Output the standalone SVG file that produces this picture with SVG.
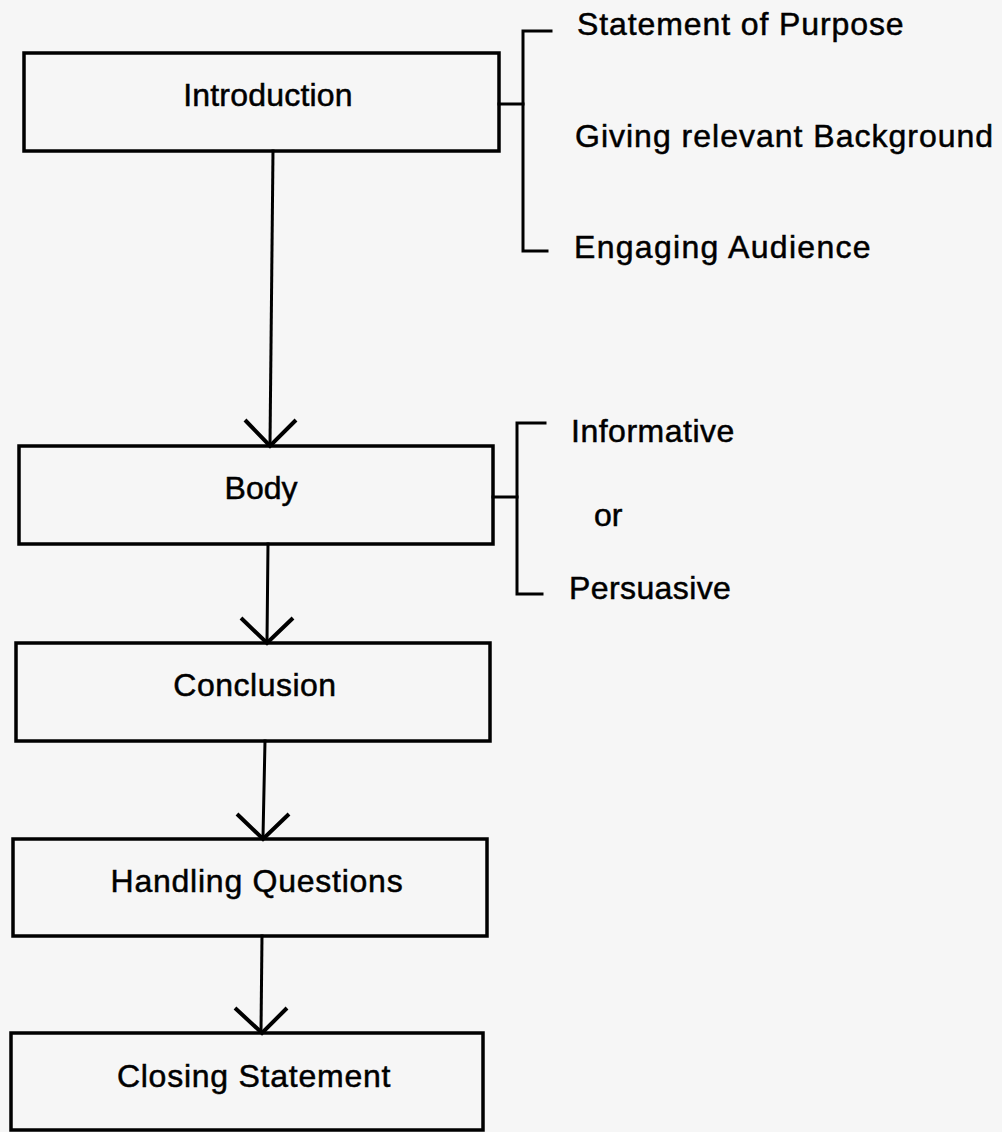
<svg xmlns="http://www.w3.org/2000/svg" width="1002" height="1132" viewBox="0 0 1002 1132">
<style>
.box{fill:none;stroke:#000;stroke-width:3.5}
.ln{fill:none;stroke:#000;stroke-width:3;stroke-linecap:square}
.ah{fill:none;stroke:#000;stroke-width:4;stroke-linejoin:miter}
.t{font-family:"Liberation Sans",Arial,sans-serif;font-size:32px;fill:#000;stroke:#000;stroke-width:0.5}
.c{text-anchor:middle}
</style>
<rect width="1002" height="1132" fill="#f6f6f6"/>
<g id="introduction">
<rect class="box" x="24" y="53" width="475" height="98"/>
<text class="t c" x="268" y="106" letter-spacing="0.2">Introduction</text>
</g>
<g id="body">
<rect class="box" x="19" y="446" width="474" height="98"/>
<text class="t c" x="261" y="499">Body</text>
</g>
<g id="conclusion">
<rect class="box" x="16" y="643" width="474" height="98"/>
<text class="t c" x="255" y="696" letter-spacing="0.5">Conclusion</text>
</g>
<g id="handling-questions">
<rect class="box" x="13" y="839" width="474" height="97"/>
<text class="t c" x="257" y="892" letter-spacing="0.75">Handling Questions</text>
</g>
<g id="closing-statement">
<rect class="box" x="11" y="1033" width="472" height="97"/>
<text class="t c" x="254" y="1087" letter-spacing="0.75">Closing Statement</text>
</g>
<g id="intro-points">
<text class="t" x="577" y="35" letter-spacing="0.9">Statement of Purpose</text>
<text class="t" x="575" y="147" letter-spacing="1">Giving relevant Background</text>
<text class="t" x="574" y="258" letter-spacing="1.3">Engaging Audience</text>
</g>
<g id="body-points">
<text class="t" x="571" y="442" letter-spacing="0.5">Informative</text>
<text class="t" x="594" y="526">or</text>
<text class="t" x="569" y="599" letter-spacing="0.4">Persuasive</text>
</g>
<g id="connectors">
<path class="ln" d="M273 151 L270 444"/>
<path class="ah" d="M245 420 L270 446 L296 420"/>
<path class="ln" d="M268 544 L267 641"/>
<path class="ah" d="M241 618 L267 643 L293 618"/>
<path class="ln" d="M265 741 L263 837"/>
<path class="ah" d="M237 814 L263 839 L289 814"/>
<path class="ln" d="M262 936 L261 1031"/>
<path class="ah" d="M235 1008 L262 1033 L287 1008"/>
<path class="ln" d="M499 104 L523 104"/>
<path class="ln" d="M551 31 L523 31 L523 251 L547 251"/>
<path class="ln" d="M493 497 L517 497"/>
<path class="ln" d="M545 423 L517 423 L517 594 L542 594"/>
</g>
</svg>
